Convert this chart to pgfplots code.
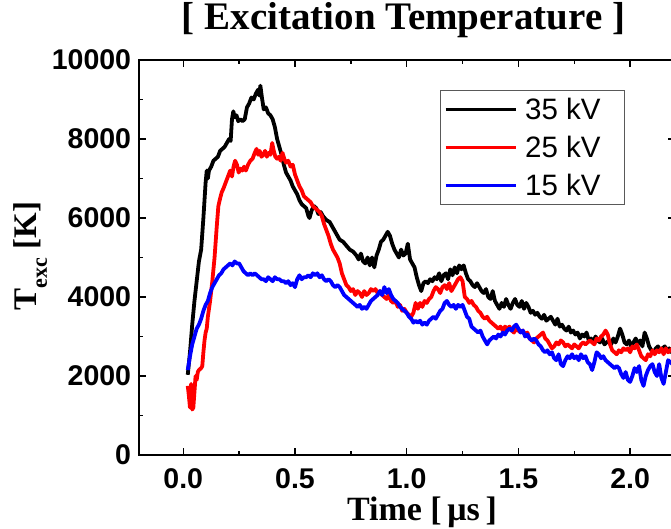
\documentclass[border=0pt]{standalone}
\usepackage{fontspec}
\setmainfont{Liberation Serif}
\newfontfamily\arial{Liberation Sans}
\usepackage{pgfplots}
\pgfplotsset{compat=1.18}

\begin{document}
\begin{tikzpicture}
\begin{axis}[
  at={(0pt,0pt)}, anchor=south west,
  scale only axis, width=536.2pt, height=395pt,
  xmin=-0.2, xmax=2.2, ymin=0, ymax=10000,
  xtick={0,0.5,1,1.5,2}, ytick={0,2000,4000,6000,8000,10000},
  minor x tick num=1, minor y tick num=1,
  tick align=inside, major tick length=7pt, minor tick length=4pt,
  every tick/.style={line width=1.5pt, black},
  axis line style={line width=2pt},
  scaled ticks=false,
  /pgf/number format/assume math mode=true,
  /pgf/number format/set thousands separator={},
  xticklabel style={/pgf/number format/fixed, /pgf/number format/precision=1,
    /pgf/number format/fixed zerofill},
  ticklabel style={font=\arial\bfseries\fontsize{28.5}{30}\selectfont},
  xticklabel shift=10pt, yticklabel shift=4pt,
  title={[ Excitation Temperature ]},
  title style={at={(0.494,1.063)}, anchor=base, font=\bfseries\fontsize{39}{42}\selectfont},
  xlabel={Time [\,μs\,]},
  xlabel style={at={(0.5285,-0.1646)}, anchor=base, font=\bfseries\fontsize{34}{38}\selectfont},
  ylabel={T\raisebox{-0.3em}{\fontsize{22}{24}\selectfont exc} [K]},
  ylabel style={at={(-0.1895,0.504)}, anchor=base, font=\bfseries\fontsize{33}{36}\selectfont},
  legend style={at={(0.562,0.924)}, anchor=north west, draw=black!65, line width=0.8pt,
    inner xsep=3.5pt, inner ysep=0pt,
    nodes={text height=21pt, text depth=0pt, inner ysep=8.5pt, inner xsep=4.5pt},
    font=\arial\fontsize{29.5}{33}\selectfont},
  legend cell align=left,
  legend image code/.code={\draw[#1, line width=3.8pt] (0pt,0pt) -- (70pt,0pt);},
  every axis plot/.append style={line width=3.8pt, line join=round},
]
% 35 kV
\addplot[black] coordinates {
(0.020,2030) (0.030,2600) (0.040,3300) (0.050,3900) (0.060,4400) (0.070,4900)
(0.080,5200) (0.090,6000) (0.100,6900) (0.105,7200) (0.110,7000) (0.115,7200)
(0.125,7300) (0.135,7450) (0.145,7500) (0.155,7550) (0.165,7700) (0.175,7750)
(0.185,7800) (0.195,7900) (0.205,8000) (0.212,7950) (0.218,8500) (0.224,8700)
(0.230,8550) (0.238,8600) (0.246,8450) (0.255,8500) (0.265,8450) (0.275,8500)
(0.285,8800) (0.295,8900) (0.305,9050) (0.315,9000) (0.325,9150) (0.335,9250)
(0.340,9100) (0.345,9350) (0.352,9050) (0.360,8750) (0.370,8800) (0.380,8650)
(0.390,8600) (0.400,8500) (0.410,8300) (0.420,8000) (0.430,7800) (0.440,7600)
(0.450,7350) (0.460,7150) (0.470,7050) (0.480,6950) (0.490,6800) (0.500,6700)
(0.510,6600) (0.520,6450) (0.530,6350) (0.540,6300) (0.550,6250) (0.560,6050)
(0.565,6000) (0.575,6200) (0.585,6300) (0.595,6250) (0.605,6100) (0.615,6150)
(0.625,6050) (0.640,5950) (0.655,5900) (0.670,5750) (0.685,5600) (0.700,5450)
(0.715,5400) (0.730,5300) (0.745,5200) (0.760,5150) (0.775,5050) (0.785,4950)
(0.795,5100) (0.805,4900) (0.815,4850) (0.825,5000) (0.835,4800) (0.845,5000)
(0.855,4750) (0.865,5050) (0.875,5200) (0.885,5400) (0.895,5450) (0.905,5550)
(0.915,5650) (0.925,5550) (0.935,5350) (0.945,5200) (0.955,5100) (0.965,5000)
(0.975,5200) (0.985,5050) (0.995,5100) (1.005,5350) (1.015,4950) (1.025,4850)
(1.035,4750) (1.045,4500) (1.055,4300) (1.065,4150) (1.075,4350) (1.085,4400)
(1.095,4350) (1.105,4450) (1.115,4400) (1.125,4500) (1.135,4450) (1.145,4600)
(1.155,4400) (1.165,4550) (1.175,4600) (1.185,4450) (1.195,4700) (1.205,4550)
(1.215,4750) (1.225,4600) (1.235,4800) (1.245,4700) (1.255,4800) (1.265,4600)
(1.275,4450) (1.285,4400) (1.295,4300) (1.305,4250) (1.315,4350) (1.325,4250)
(1.335,4150) (1.345,4100) (1.355,4200) (1.365,4000) (1.375,3950) (1.385,4150)
(1.395,3900) (1.405,3800) (1.415,3700) (1.425,3850) (1.435,3750) (1.445,3950)
(1.455,3800) (1.465,3700) (1.475,3850) (1.485,3950) (1.495,3800) (1.505,3750)
(1.515,3900) (1.525,3700) (1.535,3850) (1.545,3750) (1.555,3600) (1.565,3650)
(1.575,3550) (1.585,3600) (1.595,3500) (1.605,3450) (1.615,3550) (1.625,3400)
(1.635,3450) (1.645,3500) (1.655,3400) (1.665,3300) (1.675,3450) (1.685,3250)
(1.695,3300) (1.705,3200) (1.715,3150) (1.725,3250) (1.735,3100) (1.745,3150)
(1.755,3050) (1.765,3100) (1.775,2950) (1.785,3050) (1.795,3000) (1.805,3100)
(1.815,2900) (1.825,2950) (1.835,2850) (1.845,3000) (1.855,2900) (1.865,2850)
(1.875,2950) (1.885,2800) (1.895,2850) (1.905,2900) (1.915,2800) (1.925,2950)
(1.935,2850) (1.945,3000) (1.955,3200) (1.965,3050) (1.975,2850) (1.985,2800)
(1.995,2900) (2.005,2750) (2.015,2850) (2.025,2950) (2.035,2800) (2.045,2900)
(2.055,2750) (2.065,3100) (2.075,2950) (2.085,2750) (2.095,2650) (2.105,2600)
(2.115,2700) (2.125,2750) (2.135,2650) (2.145,2700) (2.155,2750) (2.165,2650)
(2.175,2700) (2.185,2600) (2.195,2700)
};
\addlegendentry{\kern3pt 35 kV\kern16pt}
% 25 kV
\addplot[red] coordinates {
(0.020,1750) (0.025,1500) (0.030,1200) (0.035,1800) (0.040,1150) (0.045,1200)
(0.050,1600) (0.055,2000) (0.060,1900) (0.065,2100) (0.070,2150) (0.080,2200)
(0.085,2250) (0.090,2600) (0.095,2900) (0.100,3100) (0.105,3200) (0.110,3500)
(0.120,3900) (0.130,4400) (0.140,5000) (0.150,5800) (0.157,6300) (0.165,6500)
(0.172,6650) (0.180,6750) (0.190,6900) (0.200,7050) (0.210,7200) (0.218,7050)
(0.225,7300) (0.232,7450) (0.240,7350) (0.248,7150) (0.256,7250) (0.264,7200)
(0.272,7300) (0.280,7200) (0.290,7350) (0.300,7450) (0.310,7500) (0.320,7650)
(0.328,7750) (0.335,7600) (0.342,7700) (0.350,7550) (0.358,7600) (0.366,7700)
(0.374,7550) (0.382,7650) (0.390,7600) (0.398,7900) (0.405,7700) (0.412,7550)
(0.420,7500) (0.428,7550) (0.436,7450) (0.444,7650) (0.452,7500) (0.460,7400)
(0.470,7450) (0.480,7300) (0.490,7350) (0.500,7100) (0.510,6950) (0.520,6800)
(0.530,6700) (0.540,6550) (0.550,6500) (0.560,6450) (0.570,6400) (0.580,6300)
(0.590,6250) (0.600,6200) (0.610,6150) (0.620,6050) (0.630,5850) (0.640,5700)
(0.650,5550) (0.660,5350) (0.670,5200) (0.680,5100) (0.690,5000) (0.700,4850)
(0.710,4600) (0.720,4450) (0.730,4300) (0.740,4250) (0.750,4150) (0.760,4200)
(0.770,4050) (0.780,4150) (0.790,4100) (0.800,4000) (0.810,4150) (0.820,4050)
(0.830,4100) (0.840,4200) (0.850,4150) (0.860,4200) (0.870,4100) (0.880,4150)
(0.890,4050) (0.900,4000) (0.910,3950) (0.920,4050) (0.930,3900) (0.940,3850)
(0.950,3900) (0.960,3750) (0.970,3800) (0.980,3650) (0.990,3700) (1.000,3600)
(1.010,3550) (1.020,3500) (1.030,3600) (1.040,3850) (1.050,3700) (1.060,3850)
(1.070,3750) (1.080,3900) (1.090,3850) (1.100,3950) (1.110,4000) (1.120,4150)
(1.130,4250) (1.140,4200) (1.150,4100) (1.160,4250) (1.170,4300) (1.180,4200)
(1.190,4350) (1.200,4150) (1.210,4250) (1.220,4350) (1.230,4450) (1.240,4500)
(1.250,4400) (1.260,4000) (1.270,3950) (1.280,3850) (1.290,3900) (1.300,3800)
(1.310,3750) (1.320,3650) (1.330,3600) (1.340,3500) (1.350,3450) (1.360,3500)
(1.370,3400) (1.380,3350) (1.390,3300) (1.400,3250) (1.410,3200) (1.420,3250)
(1.430,3150) (1.440,3250) (1.450,3200) (1.460,3250) (1.470,3150) (1.480,3100)
(1.490,3200) (1.500,3150) (1.510,3100) (1.520,3150) (1.530,3050) (1.540,3100)
(1.550,2950) (1.560,2900) (1.570,2850) (1.580,2950) (1.590,3000) (1.600,3050)
(1.610,3100) (1.620,2950) (1.630,2900) (1.640,2800) (1.650,2700) (1.660,2750)
(1.670,2850) (1.680,2800) (1.690,2900) (1.700,2850) (1.710,2750) (1.720,2800)
(1.730,2750) (1.740,2700) (1.750,2800) (1.760,2750) (1.770,2700) (1.780,2800)
(1.790,2850) (1.800,2800) (1.810,2850) (1.820,2900) (1.830,2850) (1.840,2800)
(1.850,2950) (1.860,2900) (1.870,3000) (1.880,3050) (1.890,3150) (1.900,3050)
(1.910,2800) (1.920,2650) (1.930,2600) (1.940,2550) (1.950,2650) (1.960,2600)
(1.970,2700) (1.980,2650) (1.990,2700) (2.000,2600) (2.010,2750) (2.020,2700)
(2.030,2800) (2.040,2650) (2.050,2500) (2.060,2450) (2.070,2400) (2.080,2550)
(2.090,2500) (2.100,2650) (2.110,2550) (2.120,2650) (2.130,2600) (2.140,2700)
(2.150,2550) (2.160,2700) (2.170,2600) (2.180,2650) (2.190,2700)
};
\addlegendentry{\kern3pt 25 kV\kern16pt}
% 15 kV
\addplot[blue] coordinates {
(0.020,2150) (0.030,2500) (0.040,2800) (0.050,3000) (0.060,3200) (0.070,3300)
(0.080,3450) (0.090,3650) (0.100,3800) (0.110,3900) (0.120,4100) (0.130,4250)
(0.140,4350) (0.150,4450) (0.160,4550) (0.170,4600) (0.180,4700) (0.190,4750)
(0.200,4800) (0.210,4850) (0.220,4800) (0.230,4900) (0.240,4850) (0.250,4850)
(0.260,4750) (0.270,4650) (0.280,4600) (0.290,4550) (0.300,4600) (0.310,4550)
(0.320,4600) (0.330,4550) (0.340,4500) (0.350,4450) (0.360,4450) (0.370,4400)
(0.380,4500) (0.390,4450) (0.400,4400) (0.410,4500) (0.420,4450) (0.430,4450)
(0.440,4400) (0.450,4400) (0.460,4350) (0.470,4400) (0.480,4300) (0.490,4350)
(0.500,4250) (0.510,4450) (0.520,4550) (0.530,4450) (0.540,4500) (0.550,4500)
(0.560,4550) (0.570,4500) (0.580,4600) (0.590,4550) (0.600,4600) (0.610,4500)
(0.620,4550) (0.630,4450) (0.640,4400) (0.650,4450) (0.660,4400) (0.670,4300)
(0.680,4250) (0.690,4300) (0.700,4250) (0.710,4150) (0.720,4050) (0.730,4000)
(0.740,3950) (0.750,3900) (0.760,3850) (0.770,3800) (0.780,3750) (0.790,3800)
(0.800,3700) (0.810,3750) (0.820,3700) (0.830,3800) (0.840,3900) (0.850,3950)
(0.860,4000) (0.870,4050) (0.880,4150) (0.890,4050) (0.900,4250) (0.910,4100)
(0.920,4200) (0.930,4050) (0.940,3950) (0.950,3900) (0.960,3850) (0.970,3750)
(0.980,3700) (0.990,3650) (1.000,3600) (1.010,3500) (1.020,3450) (1.030,3350)
(1.040,3400) (1.050,3350) (1.060,3400) (1.070,3300) (1.080,3350) (1.090,3300)
(1.100,3400) (1.110,3450) (1.120,3500) (1.130,3450) (1.140,3550) (1.150,3650)
(1.160,3700) (1.170,3850) (1.180,3900) (1.190,3800) (1.200,3750) (1.210,3800)
(1.220,3700) (1.230,3800) (1.240,3750) (1.250,3800) (1.260,3650) (1.270,3500)
(1.280,3450) (1.290,3250) (1.300,3200) (1.310,3150) (1.320,3100) (1.330,3150)
(1.340,3000) (1.350,2900) (1.360,2800) (1.370,2900) (1.380,2950) (1.390,3000)
(1.400,2950) (1.410,3050) (1.420,3000) (1.430,3100) (1.440,3050) (1.450,3150)
(1.460,3200) (1.470,3150) (1.480,3250) (1.490,3300) (1.500,3200) (1.510,3100)
(1.520,3150) (1.530,3000) (1.540,3050) (1.550,2950) (1.560,2900) (1.570,2950)
(1.580,2900) (1.590,2800) (1.600,2750) (1.610,2650) (1.620,2600) (1.630,2650)
(1.640,2550) (1.650,2600) (1.660,2450) (1.670,2400) (1.680,2550) (1.690,2300)
(1.700,2250) (1.710,2400) (1.720,2500) (1.730,2450) (1.740,2550) (1.750,2450)
(1.760,2500) (1.770,2400) (1.780,2550) (1.790,2450) (1.800,2500) (1.810,2350)
(1.820,2300) (1.830,2150) (1.840,2350) (1.850,2600) (1.860,2550) (1.870,2450)
(1.880,2500) (1.890,2400) (1.900,2350) (1.910,2300) (1.920,2250) (1.930,2200)
(1.940,2250) (1.950,2200) (1.960,2050) (1.970,1950) (1.980,2100) (1.990,1900)
(2.000,1850) (2.010,2000) (2.020,2200) (2.030,2100) (2.040,2250) (2.050,1900)
(2.060,1750) (2.070,2000) (2.080,2150) (2.090,2250) (2.100,2300) (2.110,2100)
(2.120,2000) (2.130,2300) (2.140,1950) (2.150,1800) (2.160,2100) (2.170,2400)
(2.180,2350) (2.190,2300)
};
\addlegendentry{\kern3pt 15 kV\kern16pt}
\end{axis}
\pgfresetboundingbox
\path[use as bounding box] (-138.6pt,-74pt) rectangle (532.4pt,455pt);
\end{tikzpicture}
\end{document}
